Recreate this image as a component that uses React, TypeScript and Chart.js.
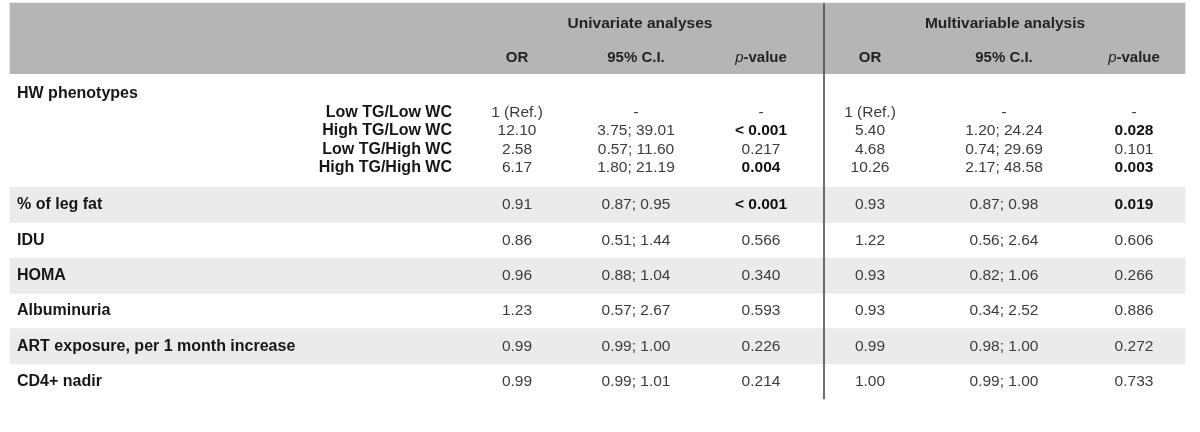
import React, { useEffect, useRef } from "react";
import { Chart, registerables } from "chart.js";

Chart.register(...registerables);

// ---------------- data ----------------
const groupHeaders = ["Univariate analyses", "Multivariable analysis"];
const columnHeaders = ["OR", "95% C.I.", "p-value"];

const groupLabel = "HW phenotypes";
const phenotypes = ["Low TG/Low WC", "High TG/Low WC", "Low TG/High WC", "High TG/High WC"];
const phenoUniOR = ["1 (Ref.)", "12.10", "2.58", "6.17"];
const phenoUniCI = ["-", "3.75; 39.01", "0.57; 11.60", "1.80; 21.19"];
const phenoUniP = ["-", "< 0.001", "0.217", "0.004"];
const phenoMultiOR = ["1 (Ref.)", "5.40", "4.68", "10.26"];
const phenoMultiCI = ["-", "1.20; 24.24", "0.74; 29.69", "2.17; 48.58"];
const phenoMultiP = ["-", "0.028", "0.101", "0.003"];

const rowLabels = [
  "% of leg fat",
  "IDU",
  "HOMA",
  "Albuminuria",
  "ART exposure, per 1 month increase",
  "CD4+ nadir",
];
const uniOR = ["0.91", "0.86", "0.96", "1.23", "0.99", "0.99"];
const uniCI = ["0.87; 0.95", "0.51; 1.44", "0.88; 1.04", "0.57; 2.67", "0.99; 1.00", "0.99; 1.01"];
const uniP = ["< 0.001", "0.566", "0.340", "0.593", "0.226", "0.214"];
const multiOR = ["0.93", "1.22", "0.93", "0.93", "0.99", "1.00"];
const multiCI = ["0.87; 0.98", "0.56; 2.64", "0.82; 1.06", "0.34; 2.52", "0.98; 1.00", "0.99; 1.00"];
const multiP = ["0.019", "0.606", "0.266", "0.886", "0.272", "0.733"];

// ---------------- layout ----------------
const W = 1200;
const H = 432;
const UNIT = 17.65; // pixels per row unit
const TOP = 3;
const Y_MIN = -TOP / UNIT;
const Y_MAX = Y_MIN + H / UNIT;
const TABLE_LEFT = 10;
const TABLE_RIGHT = 1185;
const LABEL_X = 17;
const SUBLABEL_X = 452;
const COLS_X = [517, 636, 761, 870, 1004, 1134];
const GROUP_X = [640, 1005];
const DIVIDER_X = 824;
const HEADER_UNITS = 4;
const HEADER_LINE1 = 1.19;
const HEADER_LINE2 = 3.1;
const GROUP_TITLE = 1.12;
const SUB_START = 2.2;
const SUB_STEP = 1.045;
const GROUP_UNITS = 6.45;
const ROW_UNITS = 2;

const FONT = "'Liberation Sans', Arial, Helvetica, sans-serif";
const LABEL_COLOR = "#161616";
const VALUE_COLOR = "#3c3c3c";

const isSignificant = (p: string) => {
  if (p.trim().startsWith("<")) return true;
  const v = parseFloat(p);
  return !isNaN(v) && v < 0.05;
};

const groupStart = HEADER_UNITS;
const mainStart = HEADER_UNITS + GROUP_UNITS;
const tableEnd = mainStart + rowLabels.length * ROW_UNITS;
const subY = phenotypes.map((_, i) => groupStart + SUB_START + i * SUB_STEP);
const mainY = rowLabels.map((_, i) => mainStart + i * ROW_UNITS + ROW_UNITS / 2);

const textPlugin = {
  id: "tableText",
  afterDatasetsDraw(chart: any) {
    const ctx: CanvasRenderingContext2D = chart.ctx;
    const xs = chart.scales.x;
    const ys = chart.scales.y;
    const px = (v: number) => xs.getPixelForValue(v);
    const py = (v: number) => ys.getPixelForValue(v);
    ctx.save();
    ctx.textBaseline = "middle";

    const draw = (t: string, x: number, y: number, align: CanvasTextAlign, font: string, color: string) => {
      ctx.font = font;
      ctx.fillStyle = color;
      ctx.textAlign = align;
      ctx.fillText(t, x, y);
    };

    const boldF = `bold 16px ${FONT}`;
    const pBoldF = `bold 15.5px ${FONT}`;
    const regF = `15.5px ${FONT}`;
    const groupF = `bold 15.5px ${FONT}`;
    const headF = `bold 15px ${FONT}`;
    const headItalic = `italic 15px ${FONT}`;

    groupHeaders.forEach((g, i) => draw(g, px(GROUP_X[i]), py(HEADER_LINE1), "center", groupF, "#232323"));
    COLS_X.forEach((cx, i) => {
      const h = columnHeaders[i % 3];
      const y = py(HEADER_LINE2);
      if (h.startsWith("p-")) {
        ctx.font = headItalic;
        const w1 = ctx.measureText("p").width;
        ctx.font = headF;
        const w2 = ctx.measureText(h.slice(1)).width;
        const x0 = px(cx) - (w1 + w2) / 2;
        draw("p", x0, y, "left", headItalic, "#232323");
        draw(h.slice(1), x0 + w1, y, "left", headF, "#232323");
      } else {
        draw(h, px(cx), y, "center", headF, "#232323");
      }
    });

    draw(groupLabel, px(LABEL_X), py(groupStart + GROUP_TITLE), "left", boldF, LABEL_COLOR);
    const cellsFor = (cols: string[][], i: number, y: number) => {
      cols.forEach((col, c) => {
        const t = col[i];
        const isP = c % 3 === 2;
        const bold = isP && isSignificant(t);
        draw(t, px(COLS_X[c]), y, "center", bold ? pBoldF : regF, bold ? "#111" : VALUE_COLOR);
      });
    };
    phenotypes.forEach((p, i) => {
      const y = py(subY[i]);
      draw(p, px(SUBLABEL_X), y, "right", boldF, LABEL_COLOR);
      cellsFor([phenoUniOR, phenoUniCI, phenoUniP, phenoMultiOR, phenoMultiCI, phenoMultiP], i, y);
    });
    rowLabels.forEach((r, i) => {
      const y = py(mainY[i]);
      draw(r, px(LABEL_X), y, "left", boldF, LABEL_COLOR);
      cellsFor([uniOR, uniCI, uniP, multiOR, multiCI, multiP], i, y);
    });
    ctx.restore();
  },
};

export default function App() {
  const ref = useRef<HTMLCanvasElement | null>(null);
  useEffect(() => {
    document.body.style.margin = "0";
    const canvas = ref.current;
    if (!canvas) return;
    const bandRows = mainY.filter((_, i) => i % 2 === 0);
    const chart = new Chart(canvas, {
      type: "bar",
      data: {
        datasets: [
          {
            type: "line",
            data: [
              { x: DIVIDER_X, y: 0 },
              { x: DIVIDER_X, y: tableEnd },
            ],
            borderColor: "#4a4a4a",
            borderWidth: 1.6,
            pointRadius: 0,
            order: 0,
          } as any,
          {
            data: [{ y: HEADER_UNITS / 2, x: [TABLE_LEFT, TABLE_RIGHT] }],
            backgroundColor: "#b3b6b5",
            barThickness: HEADER_UNITS * UNIT,
            grouped: false,
            borderWidth: 0,
            order: 2,
          } as any,
          {
            data: bandRows.map((y) => ({ y, x: [TABLE_LEFT, TABLE_RIGHT] })),
            backgroundColor: "#ebebeb",
            barThickness: ROW_UNITS * UNIT,
            grouped: false,
            borderWidth: 0,
            order: 2,
          } as any,
        ],
      },
      options: {
        indexAxis: "y",
        animation: false,
        responsive: false,
        devicePixelRatio: 1,
        layout: { padding: 0 },
        scales: {
          x: { type: "linear", min: 0, max: W, display: false, offset: false },
          y: {
            type: "linear",
            min: Y_MIN,
            max: Y_MAX,
            reverse: true,
            display: false,
            offset: false,
            grid: { offset: false },
          },
        },
        plugins: { legend: { display: false }, tooltip: { enabled: false } },
      } as any,
      plugins: [textPlugin],
    });
    return () => chart.destroy();
  }, []);
  return (
    <div style={{ width: W, height: H, background: "#fff" }}>
      <canvas ref={ref} width={W} height={H} />
    </div>
  );
}
